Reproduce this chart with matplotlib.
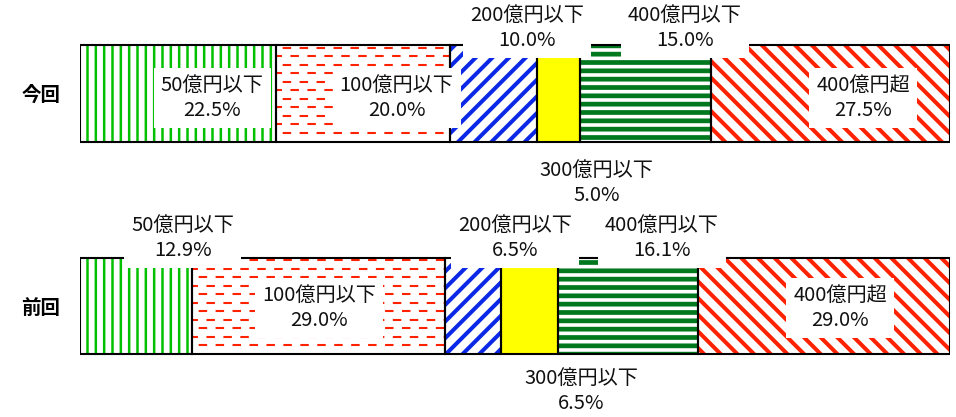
import matplotlib.pyplot as plt
import numpy as np

plt.rcParams['font.family'] = ['Noto Sans CJK JP', 'DejaVu Sans']
plt.rcParams['lines.scale_dashes'] = False

# Datos: distribución por tramo de importe (%)
periodos = ['今回', '前回']
tramos = ['50億円以下', '100億円以下', '200億円以下', '300億円以下', '400億円以下', '400億円超']
actual = [22.5, 20.0, 10.0, 5.0, 15.0, 27.5]
anterior = [12.9, 29.0, 6.5, 6.5, 16.1, 29.0]

# Posición de las etiquetas (x en %, desplazamiento vertical respecto a la barra)
etiq_x_actual = [15.2, 36.4, 51.4, 59.4, 69.5, 90.0]
etiq_y_actual = [0.02, 0.02, -0.31, 0.42, -0.31, 0.02]
etiq_x_anterior = [11.8, 27.5, 50.0, 57.6, 66.9, 87.4]
etiq_y_anterior = [-0.32, 0.01, -0.32, 0.40, -0.32, 0.01]

# Estilo de cada tramo: relleno, trama, color de trama, grosor de trama
estilos = [
    ('white', '||', '#00C000', 1.8),
    ('white', None, '#FF2200', 0),
    ('white', '//', '#0A28E6', 2.9),
    ('#FFFF00', None, '#FFFF00', 0),
    ('white', '--', '#00781E', 3.4),
    ('white', '\\\\', '#FF2200', 2.9),
]

W, H = 956, 417
fig = plt.figure(figsize=(W / 100, H / 100), dpi=100)
ax = fig.add_axes([80 / W, 0, 870 / W, 1])
ax.set_xlim(0, 100)
y_sup, y_inf = -93.5 / 212.5, 1 + (H - 306) / 212.5
ax.set_ylim(y_inf, y_sup)
dpy = (y_inf - y_sup) / H  # unidades de datos por píxel
alto = 0.455

filas = [actual, anterior]
etiquetas = [(etiq_x_actual, etiq_y_actual), (etiq_x_anterior, etiq_y_anterior)]

for i, valores in enumerate(filas):
    izq = np.concatenate([[0], np.cumsum(valores)[:-1]])
    for j, (v, l) in enumerate(zip(valores, izq)):
        cara, trama, color, lw = estilos[j]
        with plt.rc_context({'hatch.linewidth': lw if lw else 1}):
            b = ax.barh(i, v, left=l, height=alto, color=cara, hatch=trama,
                        edgecolor=color if trama else 'none', linewidth=0, zorder=2)
        if trama and hasattr(b[0], 'set_hatch_linewidth'):
            b[0].set_hatch_linewidth(lw)
        if j == 1:
            # trama de líneas discontinuas horizontales
            ys = np.arange(i - alto / 2 + 2.5 * dpy, i + alto / 2 - 1.5 * dpy, 8.5 * dpy)
            for k, yy in enumerate(ys):
                desfase = 7.4 if k % 2 == 0 else 1.8
                ax.hlines(yy, l, l + v, colors=color, linewidth=1.5,
                          linestyles=[(desfase, (6.1, 6.1))], zorder=2.5)
    # contorno negro de cada tramo
    ax.barh(i, valores, left=izq, height=alto, fill=False,
            edgecolor='black', linewidth=1.5, zorder=3)
    ex, ey = etiquetas[i]
    for j, v in enumerate(valores):
        ax.text(ex[j], i + ey[j], f'{tramos[j]}\n{v:.1f}%', ha='center', va='center',
                fontsize=14.5, linespacing=1.25, color='#111111', zorder=5,
                bbox=dict(facecolor='white', edgecolor='none', boxstyle='square,pad=0.35'))

ax.set_yticks([0, 1], periodos, fontsize=14, fontweight='bold')
ax.tick_params(axis='y', length=0, pad=14)
ax.set_xticks([])
for s in ax.spines.values():
    s.set_visible(False)

fig.savefig('out.png', dpi=100)
